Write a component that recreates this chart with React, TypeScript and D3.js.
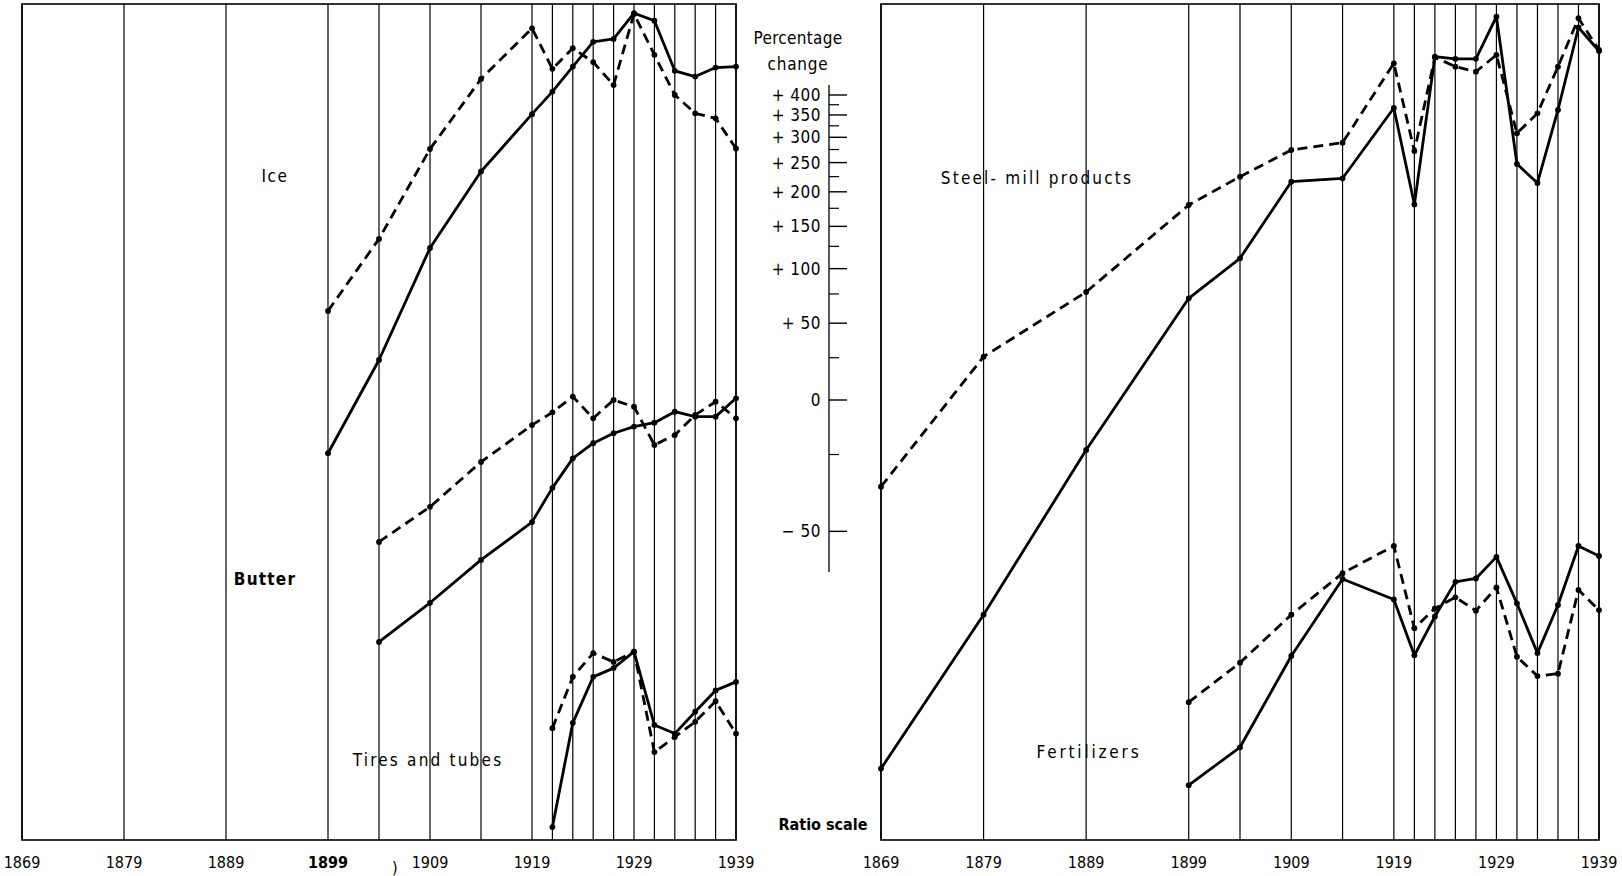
import React, { useEffect, useRef } from 'react';
import * as d3 from 'd3';

// years that get a vertical rule in both panels
const gridYears = [1869, 1879, 1889, 1899, 1904, 1909, 1914, 1919, 1921, 1923, 1925, 1927, 1929, 1931, 1933, 1935, 1937, 1939];
const tickYears = [1869, 1879, 1889, 1899, 1909, 1919, 1929, 1939];

// index values on a ratio scale, 100 = the "0" line of the percentage axis
const iceYears = gridYears.slice(3);
const iceSolid = [75.5, 123.5, 223, 334, 452, 509, 581, 662, 672, 770, 740, 568, 551, 578, 581];
const iceDashed = [160, 234, 376, 544, 711, 574, 640, 595, 527, 767, 618, 500, 454, 442, 377];

const butterYears = gridYears.slice(4);
const butterSolid = [27.9, 34.3, 43.0, 52.5, 62.9, 73.5, 79.6, 83.9, 86.9, 88.7, 94.0, 91.6, 91.6, 100.9];
const butterDashed = [47.3, 56.9, 72.1, 87.6, 93.7, 101.8, 90.8, 100, 96.5, 78.9, 83.1, 92.4, 99.1, 90.8];

const tiresYears = gridYears.slice(8);
const tiresSolid = [10.5, 18.2, 23.2, 24.3, 26.5, 18.0, 17.2, 19.3, 21.6, 22.6];
const tiresDashed = [17.7, 23.2, 26.3, 25.1, 26.5, 15.6, 16.9, 18.3, 20.4, 17.2];

const steelYears = gridYears;
const steelSolid = [14.3, 32.2, 76.8, 171, 211.2, 316.4, 322.2, 466.9, 280.6, 612.1, 605.3, 605.3, 756, 347.4, 314.3, 462, 714, 630.7];
const steelDashed = [63.3, 125.7, 176.8, 279.8, 324.9, 374.1, 388.8, 591.1, 372, 610.1, 580.6, 565.5, 617.5, 408.5, 454, 580.6, 749.6, 634.1];

const fertYears = gridYears.slice(3);
const fertSolid = [13.1, 16.0, 25.9, 38.9, 34.9, 26.0, 31.9, 38.3, 39.0, 43.7, 34.2, 26.3, 33.9, 46.3, 43.9];
const fertDashed = [20.3, 25.0, 32.2, 40.1, 46.3, 30.0, 33.3, 35.3, 32.9, 37.2, 25.8, 23.3, 23.6, 36.7, 33.0];

// percentage change axis
const pctMajor = [400, 350, 300, 250, 200, 150, 100, 50, 0, -50];
const pctMinor = [375, 325, 275, 225, 175, 125, 75, 25, -25];

const FONT = '"DejaVu Sans Condensed", "DejaVu Sans", sans-serif';

const App: React.FC = () => {
    const ref = useRef<SVGSVGElement>(null);

    useEffect(() => {
        const svg = d3.select(ref.current);
        svg.selectAll('*').remove();

        const width = 1622;
        const height = 876;
        const top = 4;
        const bottom = 840;

        svg.attr('width', width).attr('height', height);

        const xLeft = d3.scaleLinear().domain([1869, 1939]).range([22, 736]);
        const xRight = d3.scaleLinear().domain([1869, 1939]).range([881, 1599]);
        const y = d3.scaleLog().domain([100, 500]).range([400, 95]);

        const g = svg.append('g').attr('font-family', FONT).attr('fill', '#000');

        // the two framed panels with their year rules
        [xLeft, xRight].forEach((x) => {
            g.append('rect')
                .attr('x', x(1869))
                .attr('y', top)
                .attr('width', x(1939) - x(1869))
                .attr('height', bottom - top)
                .attr('fill', 'none')
                .attr('stroke', '#000')
                .attr('stroke-width', 1.6);

            g.selectAll(null)
                .data(gridYears)
                .enter()
                .append('line')
                .attr('x1', (d) => x(d))
                .attr('x2', (d) => x(d))
                .attr('y1', top)
                .attr('y2', bottom)
                .attr('stroke', '#000')
                .attr('stroke-width', 1.2);

            g.selectAll(null)
                .data(tickYears)
                .enter()
                .append('text')
                .attr('x', (d) => x(d))
                .attr('y', 868)
                .attr('text-anchor', 'middle')
                .style('font-size', '16px')
                .style('font-weight', (d) => (x === xLeft && d === 1899 ? 'bold' : 'normal'))
                .text((d) => d);
        });

        g.append('text')
            .attr('x', 392)
            .attr('y', 873)
            .style('font-size', '16px')
            .text(')');

        // one solid + one dashed line per product
        const drawPair = (
            x: d3.ScaleLinear<number, number>,
            years: number[],
            solid: number[],
            dashed: number[]
        ) => {
            [solid, dashed].forEach((vals, i) => {
                const pts = years.map((yr, k) => [x(yr), y(vals[k])] as [number, number]);
                g.append('path')
                    .attr('d', d3.line()(pts))
                    .attr('fill', 'none')
                    .attr('stroke', '#000')
                    .attr('stroke-width', 2.8)
                    .attr('stroke-linejoin', 'round')
                    .attr('stroke-dasharray', i === 1 ? '10,6' : null);
                g.selectAll(null)
                    .data(pts)
                    .enter()
                    .append('circle')
                    .attr('cx', (p) => p[0])
                    .attr('cy', (p) => p[1])
                    .attr('r', 2.9);
            });
        };

        drawPair(xLeft, iceYears, iceSolid, iceDashed);
        drawPair(xLeft, butterYears, butterSolid, butterDashed);
        drawPair(xLeft, tiresYears, tiresSolid, tiresDashed);
        drawPair(xRight, steelYears, steelSolid, steelDashed);
        drawPair(xRight, fertYears, fertSolid, fertDashed);

        // series labels
        const label = (tx: number, ty: number, s: string, bold = false, spacing = 1, size = 17) => {
            g.append('text')
                .attr('x', tx)
                .attr('y', ty)
                .attr('text-anchor', 'middle')
                .style('font-size', `${size}px`)
                .style('font-weight', bold ? 'bold' : 'normal')
                .style('letter-spacing', `${spacing}px`)
                .text(s);
        };
        label(275, 182, 'Ice', false, 1.5);
        label(265, 585, 'Butter', true, 1.2);
        label(428, 766, 'Tires and  tubes', false, 2.2);
        label(1037, 184, 'Steel- mill  products', false, 2.2);
        label(1089, 758, 'Fertilizers', false, 2.8);

        // ratio axis between the panels
        const axisX = 829;
        g.append('line')
            .attr('x1', axisX)
            .attr('x2', axisX)
            .attr('y1', 85)
            .attr('y2', 572)
            .attr('stroke', '#000')
            .attr('stroke-width', 1.3);

        g.selectAll(null)
            .data(pctMajor)
            .enter()
            .append('line')
            .attr('x1', axisX)
            .attr('x2', axisX + 18)
            .attr('y1', (d) => y(100 + d))
            .attr('y2', (d) => y(100 + d))
            .attr('stroke', '#000')
            .attr('stroke-width', 1.4);

        g.selectAll(null)
            .data(pctMinor)
            .enter()
            .append('line')
            .attr('x1', axisX)
            .attr('x2', axisX + 10)
            .attr('y1', (d) => y(100 + d))
            .attr('y2', (d) => y(100 + d))
            .attr('stroke', '#000')
            .attr('stroke-width', 1.2);

        g.selectAll(null)
            .data(pctMajor)
            .enter()
            .append('text')
            .attr('x', axisX - 8)
            .attr('y', (d) => y(100 + d))
            .attr('dy', '0.35em')
            .attr('text-anchor', 'end')
            .style('font-size', '17px')
            .style('letter-spacing', '0.5px')
            .text((d) => (d > 0 ? `+ ${d}` : d < 0 ? `\u2212 ${-d}` : '0'));

        g.append('text')
            .attr('x', 798)
            .attr('y', 44)
            .attr('text-anchor', 'middle')
            .style('font-size', '17px')
            .style('letter-spacing', '0.3px')
            .text('Percentage');
        g.append('text')
            .attr('x', 798)
            .attr('y', 70)
            .attr('text-anchor', 'middle')
            .style('font-size', '17px')
            .style('letter-spacing', '0.8px')
            .text('change');
        g.append('text')
            .attr('x', 823)
            .attr('y', 830)
            .attr('text-anchor', 'middle')
            .style('font-size', '16px')
            .style('font-weight', 'bold')
            .text('Ratio scale');
    }, []);

    return (
        <div style={{ position: 'absolute', left: 0, top: 0, background: '#fff' }}>
            <svg ref={ref} style={{ display: 'block' }}></svg>
        </div>
    );
};

export default App;
